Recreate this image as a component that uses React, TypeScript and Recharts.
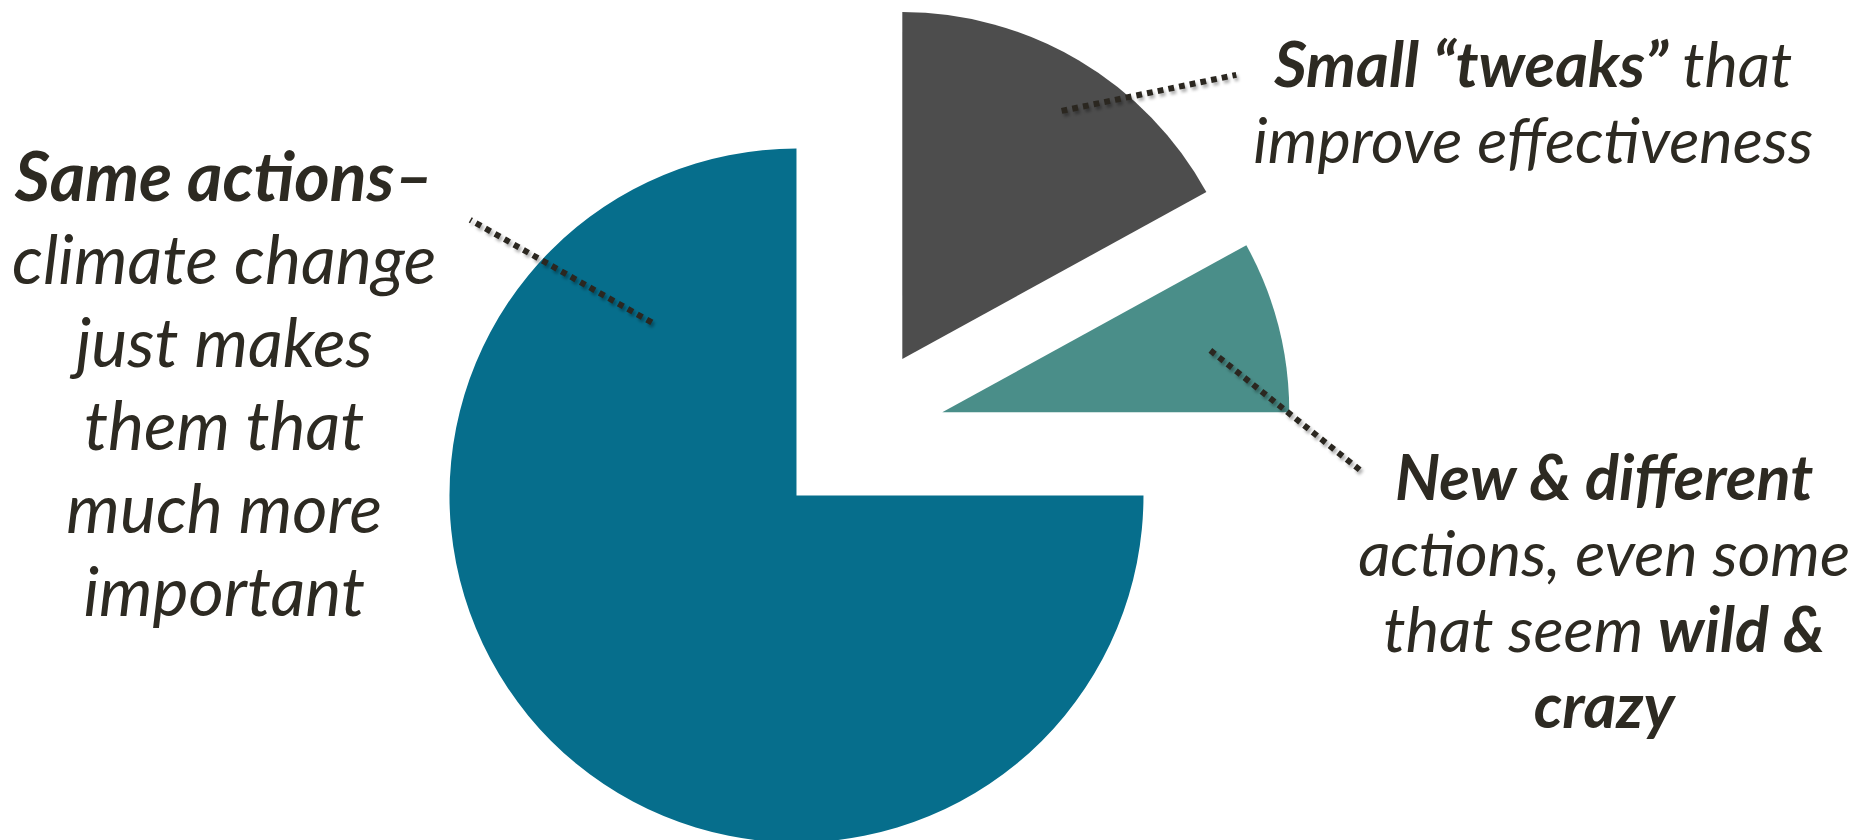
import { Cell, Pie, PieChart } from "recharts";

const SEGMENTS = ["Small “tweaks”", "New & different actions", "Same actions"];
const SHARES = [17, 8, 75];
const COLORS = ["#4d4d4d", "#4a8e89", "#066e8c"];

type Run = { text: string; bold?: boolean };

// label text per slice, line by line, split into bold / regular runs
const LABEL_LINES: Run[][][] = [
  [
    [{ text: "Small “tweaks”", bold: true }, { text: " that" }],
    [{ text: "improve effectiveness" }],
  ],
  [
    [{ text: "New & different", bold: true }],
    [{ text: "actions, even some" }],
    [{ text: "that seem " }, { text: "wild &", bold: true }],
    [{ text: "crazy", bold: true }],
  ],
  [
    [{ text: "Same actions–", bold: true }],
    [{ text: "climate change" }],
    [{ text: "just makes" }],
    [{ text: "them that" }],
    [{ text: "much more" }],
    [{ text: "important" }],
  ],
];

const WIDTH = 1871;
const HEIGHT = 840;
const CX = 858;
const CY = 434;
const RADIUS = 347;
const EXPLODE = 87;
const START_ANGLE = 90;
const END_ANGLE = -270;
const RAD = Math.PI / 180;
const INK = "#2d2a22";
const FONT = "Lato, 'Open Sans', sans-serif";

// leader lines in polar terms (angle, share of radius) from the slice's own centre,
// text block placed relative to where the leader ends
const LEADERS = [
  { from: [57.3, 0.85], to: [40.4, 1.264], dx: 297, dy: 12, size: 63, lead: 76 },
  { from: [13.0, 0.793], to: [-8.05, 1.222], dx: 242, dy: 28, size: 63, lead: 76 },
  { from: [129.9, 0.65], to: [139.8, 1.231], dx: -246, dy: -19, size: 68, lead: 83 },
];

const data = SEGMENTS.map((name, i) => ({ name, value: SHARES[i] }));
const total = SHARES.reduce((a, b) => a + b, 0);

function midAngle(i: number) {
  const before = SHARES.slice(0, i).reduce((a, b) => a + b, 0);
  return START_ANGLE + ((END_ANGLE - START_ANGLE) * (before + SHARES[i] / 2)) / total;
}

function renderLabel(slice: number) {
  return (props: any) => {
    if (props.index !== slice) return null;
    const { cx, cy, outerRadius } = props;
    const leader = LEADERS[slice];
    const at = ([a, k]: number[]) => [
      cx + outerRadius * k * Math.cos(a * RAD),
      cy - outerRadius * k * Math.sin(a * RAD),
    ];
    const [x1, y1] = at(leader.from);
    const [x2, y2] = at(leader.to);
    const tx = x2 + leader.dx;
    const ty = y2 + leader.dy;
    const shadowId = `leader-shadow-${slice}`;
    return (
      <g>
        <defs>
          <filter id={shadowId} x="-20%" y="-20%" width="140%" height="140%">
            <feGaussianBlur stdDeviation="1.6" />
          </filter>
        </defs>
        <line
          x1={x1 + 2}
          y1={y1 + 3}
          x2={x2 + 2}
          y2={y2 + 3}
          stroke="#000"
          strokeOpacity={0.3}
          strokeWidth={6}
          strokeDasharray="5.8 5.1"
          filter={`url(#${shadowId})`}
        />
        <line x1={x1} y1={y1} x2={x2} y2={y2} stroke="#2b2720" strokeWidth={6} strokeDasharray="5.8 5.1" />
        <text x={tx} y={ty} textAnchor="middle" fill={INK} fontFamily={FONT} fontStyle="italic" fontSize={leader.size}>
          {LABEL_LINES[slice].map((runs, li) => (
            <tspan key={li} x={tx} y={ty + li * leader.lead}>
              {runs.map((run, ri) => (
                <tspan key={ri} fontWeight={run.bold ? 700 : 400}>
                  {run.text}
                </tspan>
              ))}
            </tspan>
          ))}
        </text>
      </g>
    );
  };
}

export default function App() {
  return (
    <div style={{ width: WIDTH, height: HEIGHT, background: "#fff" }}>
      <style>{"body{margin:0}"}</style>
      <PieChart width={WIDTH} height={HEIGHT} margin={{ top: 0, right: 0, bottom: 0, left: 0 }}>
        {SEGMENTS.map((name, slice) => {
          const mid = midAngle(slice);
          return (
            <Pie
              key={name}
              data={data}
              dataKey="value"
              nameKey="name"
              cx={CX + EXPLODE * Math.cos(mid * RAD)}
              cy={CY - EXPLODE * Math.sin(mid * RAD)}
              outerRadius={RADIUS}
              startAngle={START_ANGLE}
              endAngle={END_ANGLE}
              stroke="none"
              label={renderLabel(slice)}
              labelLine={false}
              isAnimationActive={false}
            >
              {data.map((d, i) => (
                <Cell key={d.name} fill={i === slice ? COLORS[i] : "none"} />
              ))}
            </Pie>
          );
        })}
      </PieChart>
    </div>
  );
}
